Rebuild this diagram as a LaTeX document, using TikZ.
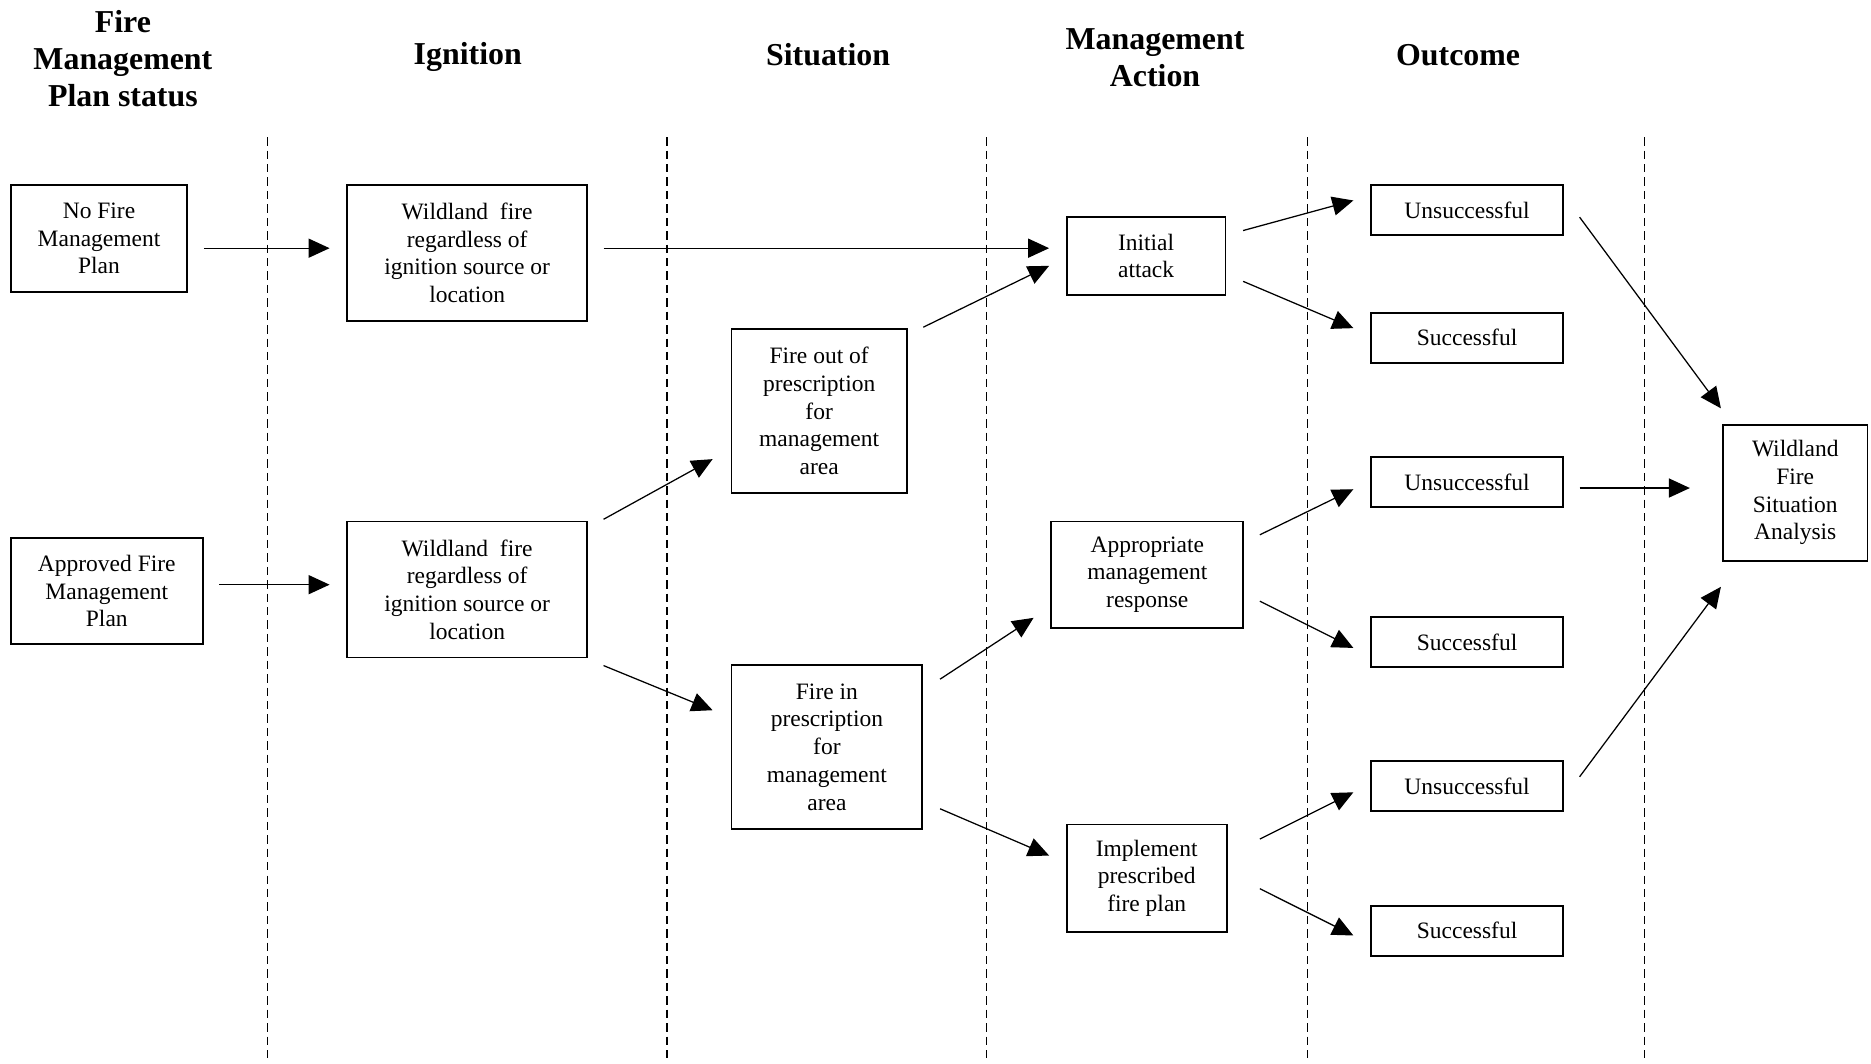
\documentclass[tikz,border=0pt]{standalone}
\usepackage{fontspec}
\setmainfont{Liberation Serif}
\usetikzlibrary{arrows.meta}
\tikzstyle{line} = [draw, line width=0.75pt, -{Triangle[length=0.44cm, width=0.4cm]}]
\tikzstyle{lane} = [draw, line width=0.8pt, dash pattern=on 5pt off 3pt]
\tikzstyle{head} = [align=center, font=\fontsize{19}{22}\selectfont\bfseries]
\tikzstyle{box} = [rectangle, draw, line width=1.1pt, align=center, inner sep=0pt, font=\fontsize{14}{16.5}\selectfont]
\tikzstyle{result} = [box, minimum width=4.025cm, minimum height=1.05cm]

\begin{document}
\begin{tikzpicture}[x=0.025cm, y=-0.025cm]
			\useasboundingbox (0,0) rectangle (1568,891);
		
			\node [head] (h_plan) at (103,49) {Fire\\Management\\Plan status};
			\node [head] (h_ign) at (392,48) {Ignition};
			\node [head] (h_sit) at (694,46) {Situation};
			\node [head] (h_act) at (968,48) {Management\\Action};
			\node [head] (h_out) at (1222,46) {Outcome};
			
			\draw [lane] (224,115) -- (224,891);
			\draw [lane] (559,115) -- (559,891);
			\draw [lane] (827,115) -- (827,891);
			\draw [lane] (1096,115) -- (1096,891);
			\draw [lane] (1378,115) -- (1378,891);
			
			\node [box, minimum width=3.7cm, minimum height=2.25cm] (no_plan) at (83,200) {No Fire\\Management\\Plan};
			\node [box, minimum width=4.025cm, minimum height=2.225cm] (ok_plan) at (89.5,495.5) {Approved Fire\\Management\\Plan};
			
			\node [box, minimum width=5.025cm, minimum height=2.85cm] (wild_a) at (391.5,212) {Wildland~ fire\\regardless of\\ignition source or\\location};
			\node [box, minimum width=5.025cm, minimum height=2.85cm] (wild_b) at (391.5,494) {Wildland~ fire\\regardless of\\ignition source or\\location};
			
			\node [box, minimum width=3.675cm, minimum height=3.425cm] (fire_out) at (686.5,344.5) {Fire out of\\prescription\\for\\management\\area};
			\node [box, minimum width=4cm, minimum height=3.45cm] (fire_in) at (693,626) {Fire in\\prescription\\for\\management\\area};
			
			\node [box, minimum width=3.325cm, minimum height=1.625cm] (attack) at (960.5,214.5) {Initial\\attack};
			\node [box, minimum width=4.025cm, minimum height=2.225cm] (response) at (961.5,481.5) {Appropriate\\management\\response};
			\node [box, minimum width=3.35cm, minimum height=2.25cm] (rx_plan) at (961,736) {Implement\\prescribed\\fire plan};
			
			\node [result] (uns_a) at (1229.5,176) {Unsuccessful};
			\node [result] (suc_a) at (1229.5,283) {Successful};
			\node [result] (uns_b) at (1229.5,404) {Unsuccessful};
			\node [result] (suc_b) at (1229.5,538) {Successful};
			\node [result] (uns_c) at (1229.5,659) {Unsuccessful};
			\node [result] (suc_c) at (1229.5,780) {Successful};
			
			\node [box, minimum width=3.025cm, minimum height=2.85cm] (wfsa) at (1504.5,413) {Wildland\\Fire\\Situation\\Analysis};
			
			\path [line] ([shift={(13,8)}]no_plan.east) to ([shift={(-14,-4)}]wild_a.west);
			\path [line] ([shift={(13,-5.5)}]ok_plan.east) to ([shift={(-14,-4)}]wild_b.west);
			\path [line] ([shift={(13,-4)}]wild_a.east) to ([shift={(-14,-6.5)}]attack.west);
			\path [line] ([shift={(13,-1)}]wild_b.north east) to ([shift={(-15,-29)}]fire_out.south west);
			\path [line] ([shift={(13,6)}]wild_b.south east) to ([shift={(-15,39)}]fire_in.north west);
			\path [line] ([shift={(13,-1)}]fire_out.north east) to ([shift={(-14,-25)}]attack.south west);
			\path [line] ([shift={(14,13)}]fire_in.north east) to ([shift={(-14,-9)}]response.south west);
			\path [line] ([shift={(14,-18)}]fire_in.south east) to ([shift={(-14,-19)}]rx_plan.west);
			
			\path [line] ([shift={(14,12)}]attack.north east) to ([shift={(-14,-8)}]uns_a.west);
			\path [line] ([shift={(14,-12)}]attack.south east) to ([shift={(-14,-8)}]suc_a.west);
			\path [line] ([shift={(13,12)}]response.north east) to ([shift={(-14,6)}]uns_b.west);
			\path [line] ([shift={(13,-23)}]response.south east) to ([shift={(-14,5)}]suc_b.west);
			\path [line] ([shift={(27,13)}]rx_plan.north east) to ([shift={(-14,5)}]uns_c.west);
			\path [line] ([shift={(27,-37)}]rx_plan.south east) to ([shift={(-14,4)}]suc_c.west);
			
			\path [line] ([shift={(13,6)}]uns_a.east) to ([shift={(-1,-13)}]wfsa.north west);
			\path [line] ([shift={(13,5)}]uns_b.east) to ([shift={(-27,-4)}]wfsa.west);
			\path [line] ([shift={(13,-8)}]uns_c.east) to ([shift={(-1,21)}]wfsa.south west);
		\end{tikzpicture}
\end{document}
